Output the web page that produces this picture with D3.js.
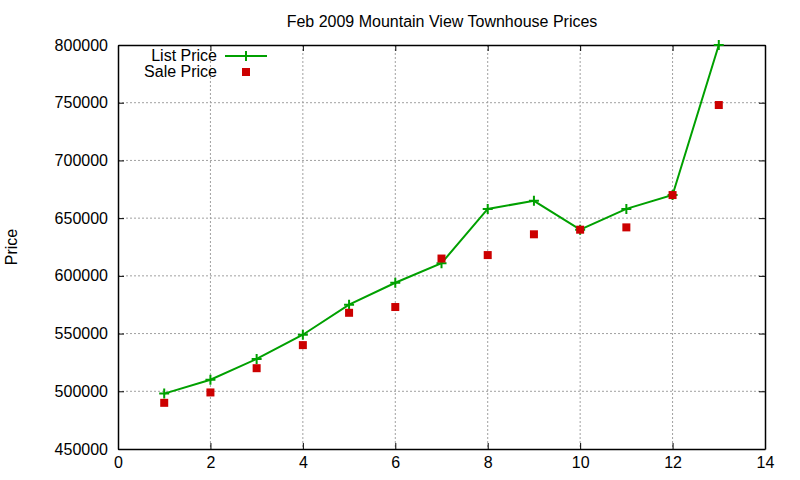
<!DOCTYPE html>
<html>
<head>
<meta charset="utf-8">
<script src="https://cdn.jsdelivr.net/npm/d3@7"></script>
<style>
  body { margin: 0; background: #fff; }
  svg { display: block; }
  text { font-family: "Liberation Sans", Arial, sans-serif; font-size: 16px; fill: #000; }
</style>
</head>
<body>
<div id="chart"></div>
<script>
// month number (x) and prices
const months = [1, 2, 3, 4, 5, 6, 7, 8, 9, 10, 11, 12, 13];
const listPrice = [498000, 510000, 528000, 549000, 575000, 594000, 611000, 658000, 665000, 640000, 658000, 670000, 800000];
const salePrice = [490000, 499000, 520000, 540000, 568000, 573000, 615000, 618000, 636000, 640000, 642000, 670000, 748000];
const xTicks = [0, 2, 4, 6, 8, 10, 12, 14];
const yTicks = [450000, 500000, 550000, 600000, 650000, 700000, 750000, 800000];

const W = 800, H = 480;
const margin = {top: 45, right: 35, bottom: 31, left: 118};
const width = W - margin.left - margin.right,
      height = H - margin.top - margin.bottom;

const svg = d3.select('#chart')
    .append('svg')
    .attr('width', W)
    .attr('height', H);

const g = svg.append('g')
    .attr('transform', `translate(${margin.left},${margin.top})`);

const x = d3.scaleLinear().domain([0, 14]).range([0, width]);
const y = d3.scaleLinear().domain([450000, 800000]).range([height, 0]);

// dotted grid
g.append('g').selectAll('line')
    .data(xTicks.slice(1, -1))
    .join('line')
    .attr('x1', d => x(d)).attr('x2', d => x(d))
    .attr('y1', 0).attr('y2', height)
    .attr('stroke', '#a0a0a0').attr('stroke-dasharray', '2,2');
g.append('g').selectAll('line')
    .data(yTicks.slice(1, -1))
    .join('line')
    .attr('y1', d => y(d)).attr('y2', d => y(d))
    .attr('x1', 0).attr('x2', width)
    .attr('stroke', '#a0a0a0').attr('stroke-dasharray', '2,2');

// axes: ticks point inwards, mirrored on top and right
const tick = 6;
const axBottom = g.append('g')
    .attr('transform', `translate(0,${height})`)
    .call(d3.axisBottom(x).tickValues(xTicks).tickSizeInner(-tick).tickSizeOuter(0).tickPadding(8));
const axLeft = g.append('g')
    .call(d3.axisLeft(y).tickValues(yTicks).tickSizeInner(-tick).tickSizeOuter(0).tickPadding(10).tickFormat(d3.format('d')));
const axTop = g.append('g')
    .call(d3.axisTop(x).tickValues(xTicks).tickSizeInner(-tick).tickSizeOuter(0).tickFormat(''));
const axRight = g.append('g')
    .attr('transform', `translate(${width},0)`)
    .call(d3.axisRight(y).tickValues(yTicks).tickSizeInner(-tick).tickSizeOuter(0).tickFormat(''));
[axBottom, axLeft, axTop, axRight].forEach(a => {
    a.selectAll('.domain').attr('stroke', '#000').attr('stroke-width', 1.5);
    a.selectAll('.tick line').attr('stroke', '#000');
    a.selectAll('text').attr('font-size', 16).attr('font-family', '"Liberation Sans", Arial, sans-serif').attr('fill', '#000');
});

// list price line with plus markers
const green = '#00a000', red = '#cc0000';
const listData = months.map((m, i) => [m, listPrice[i]]);
const saleData = months.map((m, i) => [m, salePrice[i]]);

g.append('path')
    .datum(listData)
    .attr('fill', 'none')
    .attr('stroke', green)
    .attr('stroke-width', 2)
    .attr('d', d3.line().x(d => x(d[0])).y(d => y(d[1])));

g.append('g').selectAll('path')
    .data(listData)
    .join('path')
    .attr('transform', d => `translate(${x(d[0])},${y(d[1])})`)
    .attr('d', 'M-5,0H5M0,-5V5')
    .attr('stroke', green)
    .attr('stroke-width', 2);

// sale price squares
g.append('g').selectAll('rect')
    .data(saleData)
    .join('rect')
    .attr('x', d => x(d[0]) - 4)
    .attr('y', d => y(d[1]) - 4)
    .attr('width', 8)
    .attr('height', 8)
    .attr('fill', red);

// title and axis label
svg.append('text')
    .attr('x', 442).attr('y', 27)
    .attr('text-anchor', 'middle')
    .text('Feb 2009 Mountain View Townhouse Prices');
svg.append('text')
    .attr('transform', 'translate(17,247) rotate(-90)')
    .attr('text-anchor', 'middle')
    .text('Price');

// legend
const legend = svg.append('g');
legend.append('text').attr('x', 217).attr('y', 61).attr('text-anchor', 'end').text('List Price');
legend.append('text').attr('x', 217).attr('y', 77).attr('text-anchor', 'end').text('Sale Price');
legend.append('line')
    .attr('x1', 225).attr('x2', 267).attr('y1', 56).attr('y2', 56)
    .attr('stroke', green).attr('stroke-width', 2);
legend.append('path')
    .attr('transform', 'translate(246,56)')
    .attr('d', 'M-5,0H5M0,-5V5')
    .attr('stroke', green).attr('stroke-width', 2);
legend.append('rect')
    .attr('x', 242).attr('y', 68).attr('width', 8).attr('height', 8)
    .attr('fill', red);
</script>
</body>
</html>
